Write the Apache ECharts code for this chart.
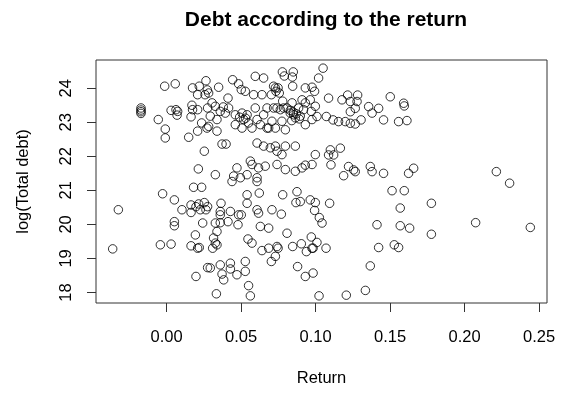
<!DOCTYPE html>
<html>
<head>
<meta charset="utf-8">
<script src="https://cdn.jsdelivr.net/npm/echarts@6/dist/echarts.min.js"></script>
<style>
  html, body { margin: 0; padding: 0; background: #fff; }
  #chart { width: 563px; height: 394px; }
</style>
</head>
<body>
<div id="chart"></div>
<script>
// Firm return vs. log of total debt, one circle per firm.
const returns = [
  // upper-left group
  -0.0172,-0.0172,-0.0172,-0.0172,-0.0013,0.0058,0.0174,0.0219,0.0264,0.0208,0.0258,0.0030,0.0063,0.0074,0.0070,0.0170,0.0174,0.0164,0.0208,0.0275,-0.0056,-0.0009,-0.0009,0.0148,0.0208,0.0235,0.0271,0.0253,0.0213,
  // lower-left group
  -0.0324,-0.0362,-0.0027,0.0052,0.0103,0.0181,0.0235,0.0164,0.0164,0.0197,0.0215,0.0226,0.0253,0.0264,0.0275,0.0242,0.0052,0.0052,0.0193,-0.0042,0.0030,0.0164,0.0208,0.0219,0.0275,0.0197,
  // top band, middle
  0.0777,0.0790,0.0850,0.0844,0.0595,0.0651,0.0443,0.0483,0.0349,0.0273,0.0501,0.0528,0.0584,0.0640,0.0718,0.0730,0.0748,0.0734,0.0703,0.0756,0.0846,0.0931,0.0976,0.0993,0.1020,0.0305,0.0282,0.0412,0.0779,0.0842,0.0909,0.0931,0.0964,
  // main band around 23
  0.0327,0.0360,0.0416,0.0293,0.0338,0.0282,0.0338,0.0394,0.0461,0.0506,0.0540,0.0517,0.0506,0.0550,0.0595,0.0607,0.0629,0.0651,0.0674,0.0685,0.0707,0.0718,0.0741,0.0763,0.0785,0.0808,0.0774,0.0797,0.0830,0.0852,0.0864,0.0897,0.0886,0.0919,0.0971,0.0998,0.0976,0.0931,0.0674,0.0730,0.0461,0.0573,
  0.0830,0.0850,0.0870,0.0890,0.0840,0.0490,0.0530,0.0380,
  // 21.3 - 22.4
  0.0372,0.0399,0.0607,0.0651,0.0696,0.0730,0.0797,0.0864,0.0741,0.0774,0.0998,0.0562,0.0573,0.0617,0.0662,0.0741,0.0797,0.0864,0.0909,0.0931,0.0976,0.0472,0.0327,0.0450,0.0495,0.0540,0.0607,
  // lower middle
  0.0439,0.0607,0.0540,0.0622,0.0540,0.0779,0.0875,0.0868,0.0897,0.0964,0.0998,0.0993,0.0365,0.0360,0.0360,0.0428,0.0483,0.0501,0.0607,0.0617,
  0.0707,0.0770,0.0327,0.0360,0.0412,0.0479,0.0629,0.0685,0.0808,0.0338,0.0315,0.0327,0.0309,0.0338,0.0546,0.0573,0.0640,0.0685,0.0741,0.0748,
  0.0730,0.0846,0.0904,0.0971,0.0976,0.0703,0.0293,0.0360,0.0428,0.0428,0.0372,0.0383,0.0472,0.0528,0.0528,0.0550,0.0562,0.0334,0.0931,0.0983,
  // higher returns
  0.1050,0.1087,0.1177,0.1215,0.1233,0.1282,0.1278,0.1233,0.1266,0.1356,0.1379,0.1423,0.1501,0.1456,0.1557,0.1009,0.1072,0.1117,0.1154,0.1199,
  0.1233,0.1266,0.1305,0.1099,0.1087,0.1121,0.1166,0.1103,0.1221,0.1255,0.1266,0.1367,0.1379,0.1456,0.1188,0.1591,0.1595,0.1613,0.1624,0.1658,
  0.2213,0.2302,0.1513,0.1595,0.1568,0.1777,0.1568,0.1631,0.1777,0.2074,0.2441,0.1528,0.1557,0.1412,0.1423,0.1367,0.1094,0.1043,0.1025,0.1009,
  0.0983,0.1070,0.0938,0.0879,0.1023,0.1206,0.1334
];

const logDebt = [
  23.42,23.36,23.31,23.26,24.06,24.13,24.01,24.06,24.22,23.81,23.81,23.35,23.37,23.32,23.21,23.50,23.37,23.16,23.37,23.42,23.08,22.80,22.54,22.56,22.74,22.98,22.83,22.15,21.63,
  20.43,19.28,20.90,20.72,20.43,21.09,21.09,20.57,20.35,20.52,20.60,20.43,20.64,20.43,20.52,20.04,20.08,19.96,19.69,19.40,19.42,19.37,19.30,19.32,18.73,18.47,
  24.48,24.36,24.48,24.33,24.35,24.30,24.25,24.13,24.03,23.95,23.96,23.91,23.81,23.81,24.06,24.01,24.01,23.91,23.81,23.86,24.06,24.01,24.03,23.91,24.30,23.57,23.86,23.71,23.62,23.57,23.66,23.57,23.66,
  23.47,23.32,23.42,23.18,23.08,22.88,22.74,23.27,23.22,23.27,23.22,23.08,22.83,22.98,23.42,23.08,22.93,23.22,23.42,22.83,23.03,23.42,23.42,23.37,23.42,23.42,23.03,22.78,23.27,23.22,23.13,23.18,23.42,23.37,23.32,23.47,23.08,22.93,22.83,22.83,22.93,22.83,
  23.35,23.30,23.25,23.10,23.05,23.15,23.12,23.45,
  22.36,22.36,22.39,22.30,22.25,22.30,22.30,22.30,22.15,22.05,22.05,21.86,21.76,21.66,21.71,21.76,21.61,21.56,21.66,21.74,21.76,21.66,21.46,21.42,21.37,21.46,21.37,
  21.26,21.26,20.87,20.92,20.62,20.87,20.96,20.64,20.67,20.72,20.64,20.41,20.62,20.38,20.28,20.38,20.28,20.28,20.43,20.33,
  20.43,20.30,20.04,20.05,20.08,19.99,19.94,19.89,19.74,19.79,19.60,19.45,19.30,19.40,19.57,19.45,19.23,19.30,19.35,19.30,
  19.06,19.35,19.43,19.63,19.30,18.91,18.72,18.81,18.86,18.69,18.54,18.37,18.52,18.91,18.62,18.20,17.90,17.96,18.47,18.57,
  24.59,23.71,23.66,23.80,23.61,23.80,23.61,23.31,23.41,23.46,23.27,23.41,23.75,23.07,23.02,23.17,23.17,23.07,23.02,23.02,
  22.97,22.95,23.07,22.19,22.04,22.04,22.24,21.75,21.70,21.60,21.55,21.70,21.55,21.50,21.43,23.56,23.48,23.05,21.50,21.65,
  21.55,21.21,20.99,20.99,20.48,20.62,19.96,19.89,19.71,20.05,19.91,19.40,19.32,19.99,19.32,18.78,20.62,20.04,20.20,19.47,
  19.30,19.30,19.20,18.76,17.90,17.92,18.06
];

const xTickValues = [0, 0.05, 0.10, 0.15, 0.20, 0.25];
const yTickValues = [18, 19, 20, 21, 22, 23, 24];

const points = returns.map((r, i) => [r, logDebt[i]]);

const FONT = '"Liberation Sans", Arial, sans-serif';

const chart = echarts.init(document.getElementById('chart'), null, { renderer: 'canvas' });
chart.setOption({
  backgroundColor: '#fff',
  animation: false,
  title: {
    text: 'Debt according to the return',
    left: 321,
    textAlign: 'center',
    top: 5,
    textStyle: { fontFamily: FONT, fontSize: 21, fontWeight: 'bold', color: '#000' }
  },
  grid: {
    left: 96, right: 16, top: 60, bottom: 91,
    show: true, borderColor: '#333', borderWidth: 1, backgroundColor: 'transparent'
  },
  xAxis: {
    type: 'value',
    min: -0.0474, max: 0.2553,
    name: 'Return',
    nameLocation: 'middle',
    nameGap: 67,
    nameTextStyle: { fontFamily: FONT, fontSize: 16.5, color: '#000' },
    axisLine: { show: false, onZero: false },
    splitLine: { show: false },
    axisTick: { show: true, inside: false, length: 9, customValues: xTickValues, lineStyle: { color: '#333', width: 1 } },
    axisLabel: {
      customValues: xTickValues,
      margin: 26,
      fontFamily: FONT, fontSize: 16.5, color: '#000',
      formatter: v => v.toFixed(2)
    }
  },
  yAxis: {
    type: 'value',
    min: 17.69, max: 24.83,
    name: 'log(Total debt)',
    nameLocation: 'middle',
    nameGap: 64,
    nameTextStyle: { fontFamily: FONT, fontSize: 16.5, color: '#000' },
    axisLine: { show: false, onZero: false },
    splitLine: { show: false },
    axisTick: { show: true, inside: false, length: 9, customValues: yTickValues, lineStyle: { color: '#333', width: 1 } },
    axisLabel: {
      customValues: yTickValues,
      rotate: 90,
      margin: 21,
      fontFamily: FONT, fontSize: 16.5, color: '#000',
      formatter: v => String(v)
    }
  },
  series: [{
    type: 'scatter',
    data: points,
    symbol: 'circle',
    symbolSize: 8.5,
    itemStyle: { color: 'rgba(0,0,0,0)', borderColor: '#000', borderWidth: 1 },
    emphasis: { disabled: true }
  }]
});
</script>
</body>
</html>
